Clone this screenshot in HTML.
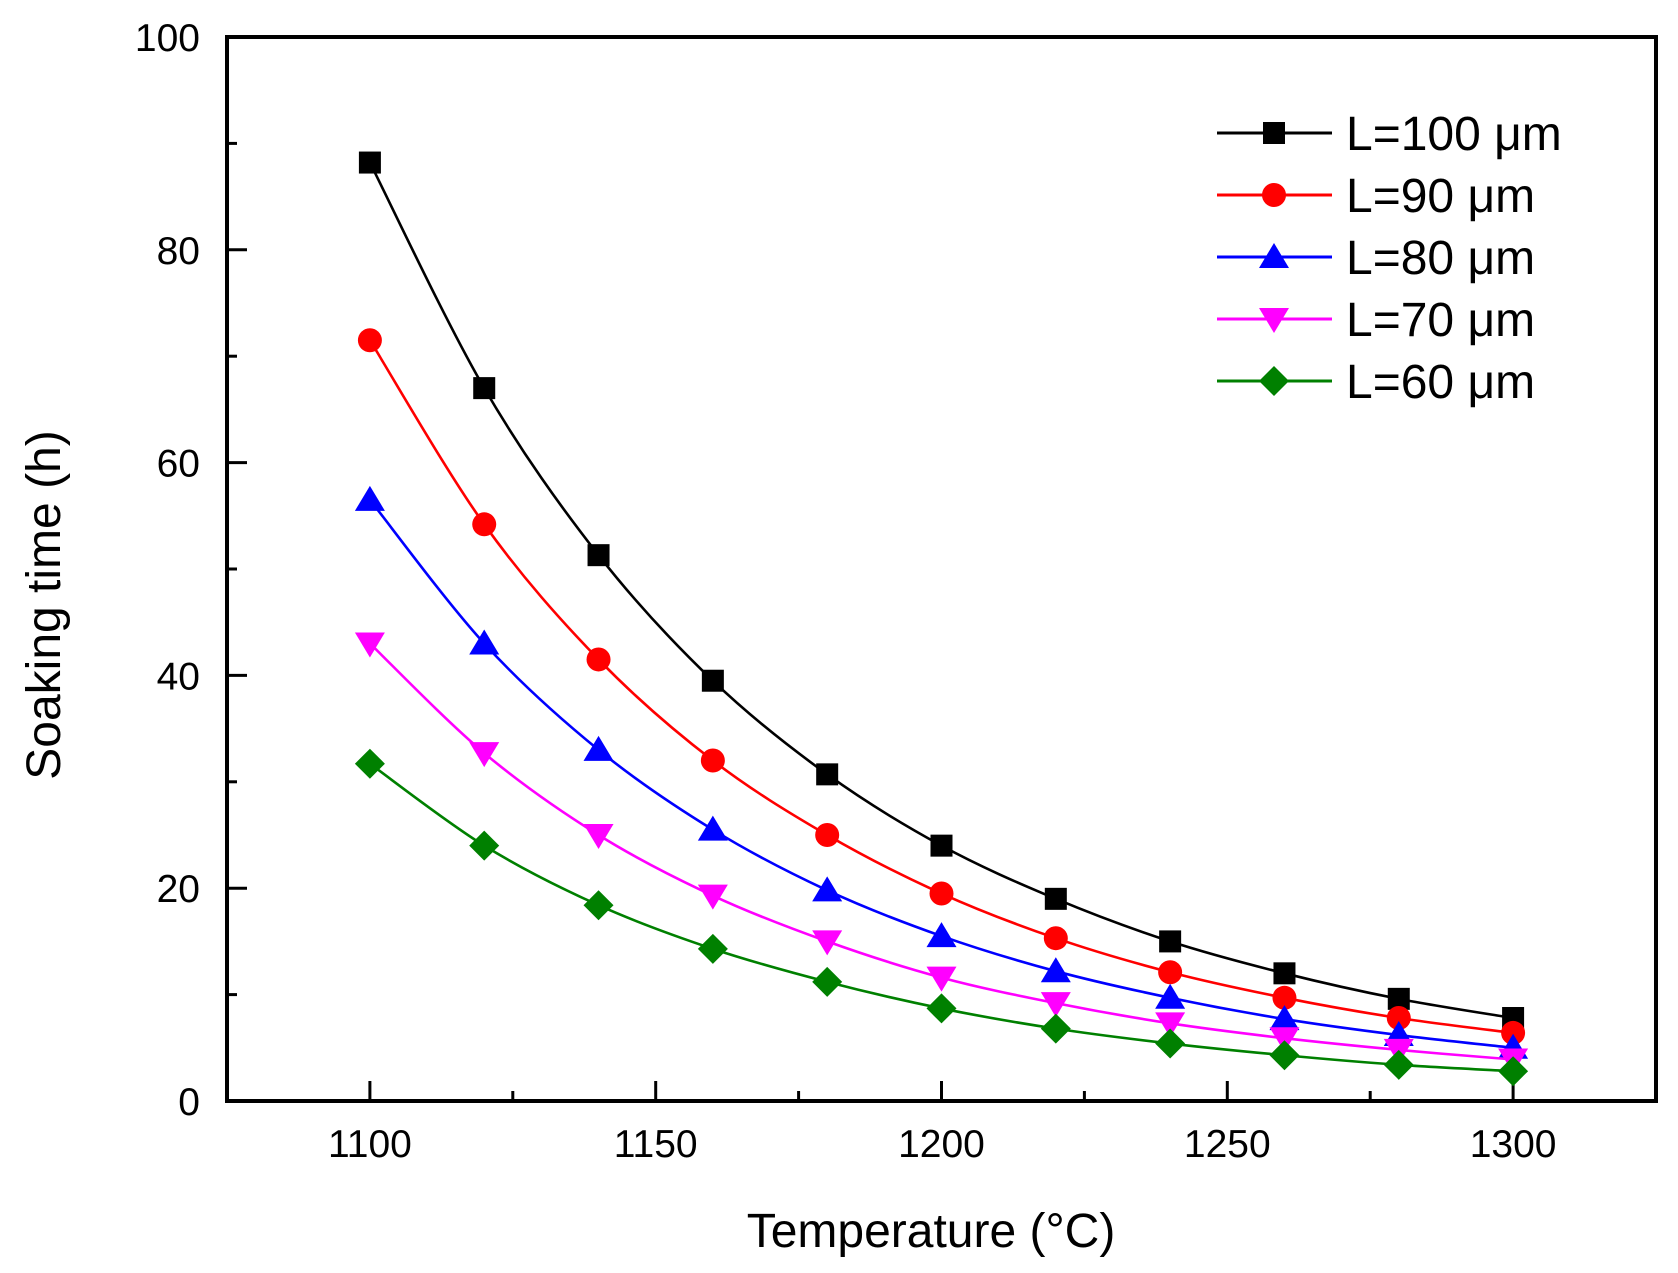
<!DOCTYPE html>
<html><head><meta charset="utf-8"><style>
html,body{margin:0;padding:0;background:#fff;}
svg{display:block;font-family:"Liberation Sans",Arial,sans-serif;}
</style></head><body>
<svg id="chart" width="1678" height="1273" viewBox="0 0 1678 1273" xmlns="http://www.w3.org/2000/svg">
<rect width="1678" height="1273" fill="#fff"/>
<g id="plot"></g>
<text x="931" y="1247" font-size="48" text-anchor="middle">Temperature (°C)</text>
<text transform="translate(60,605) rotate(-90)" font-size="48" text-anchor="middle">Soaking time (h)</text>
</svg>
<script>
const temps = [1100,1120,1140,1160,1180,1200,1220,1240,1260,1280,1300];
const s100 = [88.2,67,51.3,39.5,30.7,24,19,15,12,9.6,7.8];
const s90 = [71.5,54.2,41.5,32,25,19.5,15.3,12.1,9.7,7.8,6.4];
const s80 = [56.5,43,33,25.5,19.8,15.5,12.2,9.7,7.7,6.2,5];
const s70 = [43,32.7,25,19.3,15,11.6,9.2,7.3,5.9,4.8,3.9];
const s60 = [31.7,24,18.4,14.3,11.2,8.7,6.8,5.4,4.3,3.4,2.8];
const seriesLabels = ["L=100 μm","L=90 μm","L=80 μm","L=70 μm","L=60 μm"];
const xTicks = [1100,1150,1200,1250,1300];
const yTicks = [0,20,40,60,80,100];

const NS="http://www.w3.org/2000/svg";
const g=document.getElementById('plot');
const L=227,R=1656,T=37,B=1101,XMIN=1075,XMAX=1325,YMIN=0,YMAX=100;
const xs=v=>L+(v-XMIN)/(XMAX-XMIN)*(R-L);
const ys=v=>B-(v-YMIN)/(YMAX-YMIN)*(B-T);
function mk(tag,attrs,parent){const e=document.createElementNS(NS,tag);for(const k in attrs)e.setAttribute(k,attrs[k]);(parent||g).appendChild(e);return e;}

const frame=mk('rect',{x:L,y:T,width:R-L,height:B-T,fill:'none',stroke:'#000','stroke-width':4});



for(let v=1075;v<=1325;v+=25){
  const major=xTicks.includes(v);
  const t=mk('line',{x1:xs(v),x2:xs(v),y1:B,y2:B-(major?20:10),stroke:'#000','stroke-width':3});
  
  
}
xTicks.forEach(v=>{
  const t=mk('text',{x:xs(v),y:1157,'font-size':39,'text-anchor':'middle'});
  t.textContent=v;
  
  
});
for(let v=0;v<=100;v+=10){
  const major=yTicks.includes(v);
  const t=mk('line',{x1:L,x2:L+(major?20:10),y1:ys(v),y2:ys(v),stroke:'#000','stroke-width':3});
  
  
}
yTicks.forEach(v=>{
  const t=mk('text',{x:200,y:ys(v)+14,'font-size':39,'text-anchor':'end'});
  t.textContent=v;
  
  
});

const all=[s100,s90,s80,s70,s60];
const colors=['#000','#ff0000','#0000ff','#ff00ff','#008000'];
const shapes=['square','circle','tri','tri-down','diamond'];
function marker(shape,cx,cy,color,parent){
  let e;
  if(shape==='square') e=mk('rect',{x:cx-11,y:cy-11,width:22,height:22,fill:color},parent);
  else if(shape==='circle') e=mk('circle',{cx:cx,cy:cy,r:12,fill:color},parent);
  else if(shape==='tri') e=mk('polygon',{points:`${cx},${cy-14} ${cx-15},${cy+11} ${cx+15},${cy+11}`,fill:color},parent);
  else if(shape==='tri-down') e=mk('polygon',{points:`${cx},${cy+14} ${cx-15},${cy-11} ${cx+15},${cy-11}`,fill:color},parent);
  else e=mk('polygon',{points:`${cx},${cy-15} ${cx+15},${cy} ${cx},${cy+15} ${cx-15},${cy}`,fill:color},parent);
  return e;
}
function smooth(pts){
  let d=`M${pts[0][0]},${pts[0][1]}`;
  for(let i=0;i<pts.length-1;i++){
    const p0=pts[i-1]||pts[i],p1=pts[i],p2=pts[i+1],p3=pts[i+2]||p2;
    const c1=[p1[0]+(p2[0]-p0[0])/6,p1[1]+(p2[1]-p0[1])/6];
    const c2=[p2[0]-(p3[0]-p1[0])/6,p2[1]-(p3[1]-p1[1])/6];
    d+=` C${c1[0]},${c1[1]} ${c2[0]},${c2[1]} ${p2[0]},${p2[1]}`;
  }
  return d;
}
all.forEach((s,si)=>{
  const grp=mk('g',{});
  
  
  const pts=s.map((v,i)=>[xs(temps[i]),ys(v)]);
  const p=mk('path',{d:smooth(pts),fill:'none',stroke:colors[si],'stroke-width':2.6},grp);
  
  
  pts.forEach(pt=>{
    const m=marker(shapes[si],pt[0],pt[1],colors[si],grp);
    
    
  });
});

const legend=mk('g',{});


seriesLabels.forEach((lab,i)=>{
  const y=133+i*62;
  const e=mk('g',{},legend);
  
  
  mk('line',{x1:1217,x2:1332,y1:y,y2:y,stroke:colors[i],'stroke-width':3},e);
  marker(shapes[i],1274,y,colors[i],e);
  const t=mk('text',{x:1346,y:y+17,'font-size':48},e);
  t.textContent=lab;
});
</script>
</body></html>
